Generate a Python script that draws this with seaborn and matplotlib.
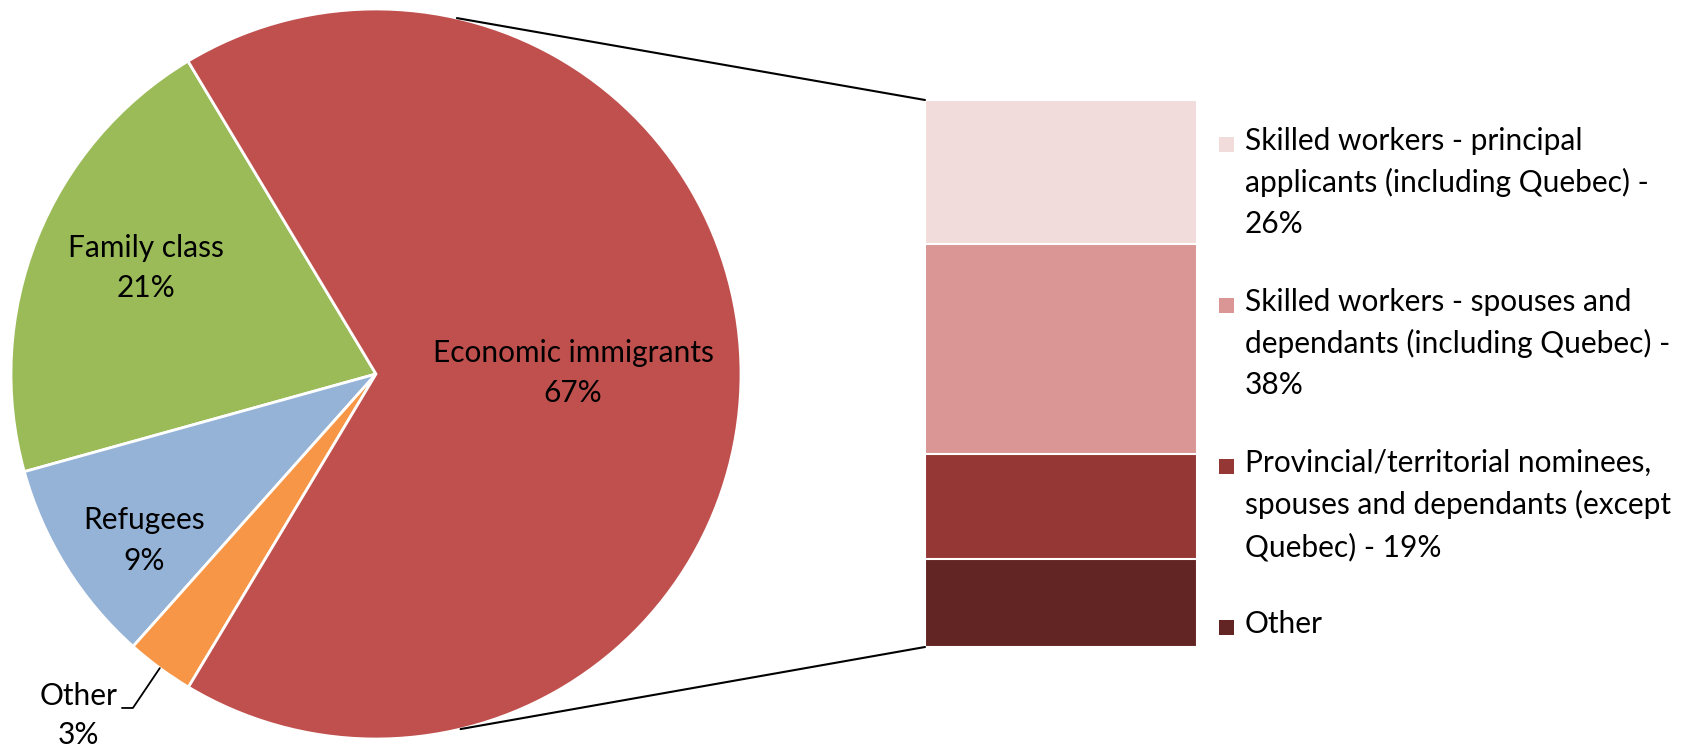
import numpy as np
import pandas as pd
import seaborn as sns
import matplotlib.pyplot as plt
from matplotlib.patches import ConnectionPatch, Rectangle

# ---------------- data ----------------
pie_labels = ["Family class", "Refugees", "Other", "Economic immigrants"]
pie_values = [20.7, 9.1, 3.0, 67.2]
pie_colors = ["#9BBB59", "#95B3D7", "#F79646", "#C0504D"]

econ_labels = [
    "Skilled workers - principal applicants (including Quebec)",
    "Skilled workers - spouses and dependants (including Quebec)",
    "Provincial/territorial nominees, spouses and dependants (except Quebec)",
    "Other",
]
econ_values = [26.3, 38.4, 19.2, 16.1]          # top -> bottom of the bar
econ_colors = ["#F2DCDB", "#D99694", "#953735", "#632523"]
legend_texts = [
    "Skilled workers - principal\napplicants (including Quebec) -\n26%",
    "Skilled workers - spouses and\ndependants (including Quebec) -\n38%",
    "Provincial/territorial nominees,\nspouses and dependants (except\nQuebec) - 19%",
    "Other",
]

# ---------------- style ----------------
sns.set_theme(style="white")
plt.rcParams['font.family'] = ['Lato', 'DejaVu Sans']
FS = 21.5
LS = 1.55

W, H = 1686, 750
fig = plt.figure(figsize=(W / 100, H / 100), dpi=100)

# ---------------- pie ----------------
cx, cy, R = 376, 374, 365
ax1 = fig.add_axes([(cx - R) / W, (H - cy - R) / H, 2 * R / W, 2 * R / H])
wedges, _ = ax1.pie(pie_values, colors=pie_colors, startangle=121,
                    counterclock=True, radius=1,
                    wedgeprops=dict(edgecolor="white", linewidth=2))
ax1.set_xlim(-1, 1)
ax1.set_ylim(-1, 1)
ax1.set_aspect("auto")
ax1.axis("off")

# label placement: (radius, angle offset from wedge middle)
label_layout = {"Family class": (0.694, -3.0), "Refugees": (0.783, 3.8),
                "Economic immigrants": (0.54, 0.3)}
for w, lab, v in zip(wedges, pie_labels, pie_values):
    mid = np.deg2rad((w.theta1 + w.theta2) / 2)
    txt = f"{lab}\n{round(v)}%"
    if lab in label_layout:
        r, off = label_layout[lab]
        a = mid + np.deg2rad(off)
        ax1.text(r * np.cos(a), r * np.sin(a), txt, ha="center", va="center",
                 fontsize=FS, linespacing=LS, color="black")
    else:
        # outside label with leader line
        p0 = (np.cos(mid), np.sin(mid))
        p1 = (-0.666, -0.915)
        p2 = (-0.696, -0.915)
        ax1.plot([p0[0], p1[0], p2[0]], [p0[1], p1[1], p2[1]], color="black",
                 lw=1.3, clip_on=False)
        ax1.text(-0.816, -0.936, txt, ha="center", va="center", fontsize=FS,
                 linespacing=1.45, color="black", clip_on=False)

# ---------------- stacked bar ----------------
bx0, bx1, by0, by1 = 925, 1197, 100, 647
ax2 = fig.add_axes([bx0 / W, (H - by1) / H, (bx1 - bx0) / W, (by1 - by0) / H])
cum = np.cumsum(econ_values[::-1])[::-1]
for c, col, lab in zip(cum, econ_colors, econ_labels):
    df = pd.DataFrame({"group": ["Economic"], "value": [c]})
    sns.barplot(data=df, x="group", y="value", color=col, saturation=1,
                width=1, edgecolor="white", linewidth=1.5, ax=ax2)
ax2.set_xlim(-0.5, 0.5)
ax2.set_ylim(0, sum(econ_values))
ax2.axis("off")

# connector lines
for ang, yb in [(77.2, sum(econ_values)), (-76.6, 0)]:
    a = np.deg2rad(ang)
    con = ConnectionPatch(xyA=(np.cos(a), np.sin(a)), coordsA=ax1.transData,
                          xyB=(-0.5, yb), coordsB=ax2.transData,
                          color="black", lw=1.5)
    fig.add_artist(con)

# ---------------- legend ----------------
first_line_y = 144       # px from top, centre of first text line
step = 161
sq = 15
for i, (t, col) in enumerate(zip(legend_texts, econ_colors)):
    yc = first_line_y + i * step
    fig.add_artist(Rectangle((1219 / W, (H - yc - sq / 2) / H), sq / W, sq / H,
                             transform=fig.transFigure, facecolor=col,
                             edgecolor="none"))
    fig.text(1245 / W, (H - yc + 17) / H, t, ha="left", va="top",
             fontsize=FS, linespacing=LS, color="black")

fig.savefig("out.png", dpi=100, facecolor="white")
